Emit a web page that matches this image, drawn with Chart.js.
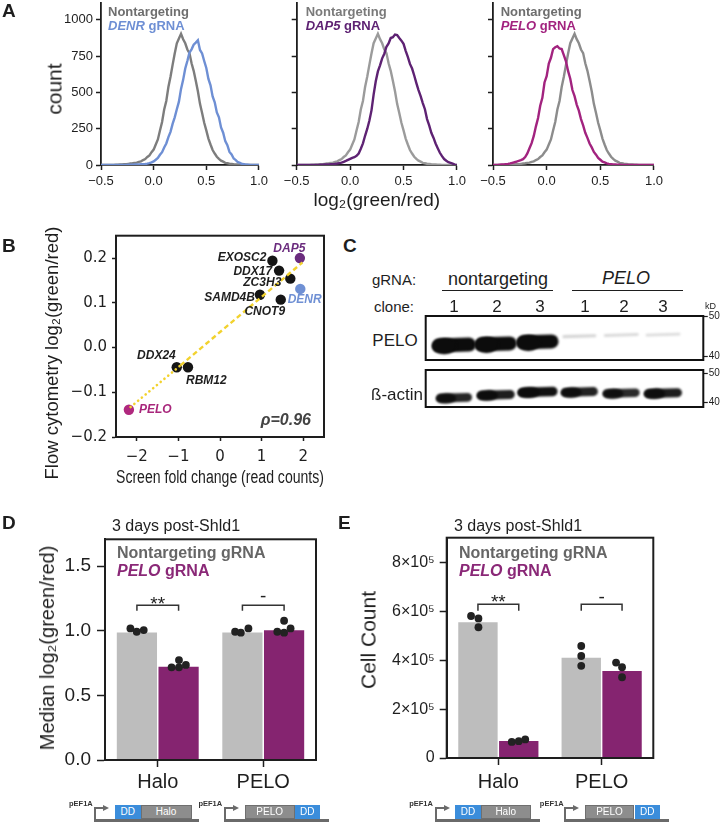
<!DOCTYPE html>
<html>
<head>
<meta charset="utf-8">
<script src="https://cdn.jsdelivr.net/npm/chart.js@4.4.1/dist/chart.umd.min.js"></script>
<style>
html,body{margin:0;padding:0;background:#fff;}
body{width:725px;height:823px;position:relative;overflow:hidden;font-family:'Liberation Sans',Arial,Helvetica,sans-serif;color:#222;}
canvas{position:absolute;}
.t{position:absolute;white-space:nowrap;line-height:1;}
.r{position:absolute;box-sizing:border-box;}
</style>
</head>
<body>
<script>
// ================= DATA =================
// Panel A: histogram bin centers (log2 green/red) and counts
const binCenters = [-0.50,-0.48,-0.46,-0.44,-0.42,-0.40,-0.38,-0.36,-0.34,-0.32,-0.30,-0.28,-0.26,-0.24,-0.22,-0.20,-0.18,-0.16,-0.14,-0.12,-0.10,-0.08,-0.06,-0.04,-0.02,0.00,0.02,0.04,0.06,0.08,0.10,0.12,0.14,0.16,0.18,0.20,0.22,0.24,0.26,0.28,0.30,0.32,0.34,0.36,0.38,0.40,0.42,0.44,0.46,0.48,0.50,0.52,0.54,0.56,0.58,0.60,0.62,0.64,0.66,0.68,0.70,0.72,0.74,0.76,0.78,0.80,0.82,0.84,0.86,0.88,0.90,0.92,0.94,0.96,0.98,1.00];
const countNontargeting = [0,0,0,1,0,1,1,2,2,3, 4,5,6,8,10,12,15,16,22,25, 34,41,55,66,88,106, 141,176,238,296,382,441,537,608,689,768, 838,871,903,866,838,795,770,700,648,580, 508,421,358,291,238,182,141,103,79,57, 42,30,23,15,12,9,7,5,4,3, 2,2,1,1,1,0,1,0,0,0];
const countDENR = [0,0,0,0,0,0,0,0,1,0, 1,1,1,2,2,2,3,3,4,5, 6,7,9,13,18,25, 36,48,70,88,121,148,192,228,283,328, 384,436,524,586,664,716,774,796,828,842, 858,792,768,716,668,592,548,472,432,362, 328,258,222,164,136,90,73,45,34,19, 14,7,5,3,2,1,1,0,0,0];
const countDAP5 = [0,0,0,0,0,0,0,1,1,1, 1,2,2,3,3,4,5,6,8,10, 13,16,22,28,35,42, 49,54,63,79,112,149,201,248,304,376, 484,576,644,686,734,766,814,836,874,880, 898,894,874,856,834,786,744,696,664,616, 564,516,474,426,384,316,272,222,188,148, 116,84,61,41,29,19,14,9,3,0];
const countPELO = [0,1,1,2,3,4,6,8,11,15, 19,24,29,33,40,55,80,115,150,200, 266,324,408,462,568,612, 698,738,798,810,818,802,798,756,714,646, 594,516,474,416,374,316,272,222,187,148, 121,90,71,49,36,23,18,11,8,6, 4,3,2,2,1,1,1,0,0,0, 0,0,0,0,0,0,0,0,0,0];
const histXTicks = [-0.5,0,0.5,1.0];
const histYTicks = [0,250,500,750,1000];

// Panel B: screen fold change vs flow cytometry log2(green/red)
const geneNames = ['PELO','DDX24','RBM12','SAMD4B','EXOSC2','DDX17','ZC3H3','CNOT9','DAP5','DENR'];
const screenFoldChange = [-2.19,-1.04,-0.77,0.96,1.26,1.42,1.69,1.46,1.92,1.93];
const flowLog2 = [-0.139,-0.044,-0.044,0.118,0.194,0.172,0.154,0.107,0.200,0.131];
const fitX = [-2.15,-0.95,1.98];
const fitY = [-0.133,-0.040,0.190];
const rhoText = 'ρ=0.96';
const scatterXTicks = [-2,-1,0,1,2];
const scatterYTicks = [-0.2,-0.1,0,0.1,0.2];

// Panel C: western blot lanes and band signal
const gRNAGroups = ['nontargeting','PELO'];
const cloneLabels = ['1','2','3','1','2','3'];
const laneIdx = [1,2,3,4,5,6];
const peloSignal = [1.0,1.0,1.0,0.08,0.06,0.05];
const peloBandKD = [42.8,43.1,43.6,45.0,45.3,45.4];
const actinSignal = [0.88,0.92,0.98,0.90,0.86,0.92];
const actinBandKD = [41.6,42.6,43.6,43.6,43.2,43.2];
const kdTicks = [40,50];

// Panels D, E
const constructNames = ['Halo','PELO'];
const medianNT = [0.987,0.987];
const medianPELO = [0.722,1.003];
const dotsMedianNT = [[1.018,0.992,1.005],[0.992,0.985,1.018]];
const dotsMedianPELO = [[0.717,0.773,0.717,0.735],[0.992,1.077,0.985,1.018]];
const medianTicks = [0,0.5,1.0,1.5];
const cellNT = [556000,411000];
const cellPELO = [70000,357000];
const dotsCellNT = [[582000,572000,536000],[459000,418000,378000]];
const dotsCellPELO = [[66000,69000,76000],[391000,372000,331000]];
const cellTicks = [0,200000,400000,600000,800000];
const sigLabels = ['**','-'];

// ================= STYLE / HELPERS =================
const FONT = "'Liberation Sans', Arial, Helvetica, sans-serif";
Chart.defaults.font.family = FONT;
Chart.defaults.color = '#1e1e1e';
Chart.defaults.animation = false;
const AX = '#1e1e1e';
const C_BLUE = '#6e8fd4', C_PURPLE = '#5e2273', C_MAG = '#a2237f', C_BAR_G = '#bdbdbd', C_BAR_M = '#852470';

function addCanvas(left, top, w, h){
  const c = document.createElement('canvas');
  c.width = w; c.height = h;
  c.style.left = left+'px'; c.style.top = top+'px';
  c.style.width = w+'px'; c.style.height = h+'px';
  document.body.appendChild(c); return c;
}
function text(html, x, y, o={}){
  const d = document.createElement('div'); d.className='t'; d.innerHTML = html;
  const s = d.style; s.left = x+'px'; s.top = y+'px'; s.fontSize = (o.size||14)+'px';
  s.fontWeight = o.bold ? 'bold' : 'normal'; if (o.italic) s.fontStyle = 'italic';
  s.color = o.color || '#1e1e1e'; if (o.family) s.fontFamily = o.family;
  const ax = o.align==='center' ? '-50%' : (o.align==='right' ? '-100%' : '0');
  s.transform = `translate(${ax},-50%)`;
  document.body.appendChild(d); return d;
}
function vtext(html, cx, cy, size){
  const d = document.createElement('div'); d.className='t'; d.innerHTML = html;
  Object.assign(d.style, {left:cx+'px', top:cy+'px', fontSize:size+'px', color:'#1e1e1e',
    transform:'translate(-50%,-50%) rotate(-90deg)'});
  document.body.appendChild(d); return d;
}
function rect(x,y,w,h,bg,extra){
  const d = document.createElement('div'); d.className='r';
  Object.assign(d.style,{left:x+'px',top:y+'px',width:w+'px',height:h+'px',background:bg}, extra||{});
  document.body.appendChild(d); return d;
}
const fmt = (v,d)=> (v<0?'−':'') + Math.abs(v).toFixed(d);
const axisGrid = (len, w)=>({drawOnChartArea:false, drawTicks:true, tickLength:len, color:AX, tickWidth:w||1.5});
const setTicks = arr => (s => { s.ticks = arr.map(v=>({value:v})); });

// iterate layout padding / axis sizes so the plot area lands exactly on target
function fitArea(chart, L, T, tgt, st, mode){
  for (let k=0; k<6; k++){
    const a = chart.chartArea;
    const dl = (tgt.l-L)-a.left, dr = (tgt.r-L)-a.right, dt = (tgt.t-T)-a.top, db = (tgt.b-T)-a.bottom;
    if (Math.abs(dl)<0.05 && Math.abs(dr)<0.05 && Math.abs(dt)<0.05 && Math.abs(db)<0.05) break;
    if (mode==='blot'){ st.pl += dl; st.ya -= dr; st.pt += dt; st.pb -= db; }
    else { st.ya += dl; st.pr -= dr; st.pt += dt; st.xa -= db; }
    chart.options.layout.padding = {left:st.pl||0, top:st.pt, right:st.pr||0, bottom:st.pb||0};
    chart.update('none');
  }
}

const boxPlugin = {id:'box', afterDraw(chart, args, o){
  if(!o || !o.on) return; const {ctx, chartArea:a} = chart;
  ctx.save(); ctx.strokeStyle = o.color || AX; ctx.lineWidth = o.width || 2;
  ctx.strokeRect(a.left, a.top, a.right-a.left, a.bottom-a.top); ctx.restore();
}};

// ================= PANEL A =================
function histChart(cfg){
  const T = -12, H = 227;
  const st = {ya:cfg.ya, pr:12, pt:15, xa:50, pl:0};
  const c = addCanvas(cfg.left, T, cfg.w, H);
  const ch = new Chart(c, {
    type:'line',
    data:{datasets: cfg.series.map(s=>({
      data: binCenters.map((x,i)=>({x, y:s.values[i]})),
      borderColor:s.color, borderWidth:2.4, pointRadius:0, tension:0, fill:false
    }))},
    options:{responsive:false, animation:false,
      layout:{padding:{left:0, top:st.pt, right:st.pr, bottom:0}},
      plugins:{legend:{display:false}, tooltip:{enabled:false}},
      scales:{
        x:{type:'linear', min:-0.5, max:1.0, afterBuildTicks:setTicks(histXTicks),
          ticks:{padding:4, font:{size:13}, color:AX, callback:v=>fmt(v,1)},
          grid:axisGrid(5), border:{color:AX, width:1.8},
          title: cfg.xTitle ? {display:true, text:cfg.xTitle, font:{size:19}, color:AX, padding:{top:0, bottom:2.6}} : {display:false},
          afterFit:s=>{s.height=st.xa;}},
        y:{min:0, max:1115, afterBuildTicks:setTicks(histYTicks),
          ticks:{display:!!cfg.yLabels, padding:3, font:{size:13}, color:AX, callback:v=>String(v)},
          grid:axisGrid(5), border:{color:AX, width:1.8},
          afterFit:s=>{s.width=st.ya;}}
      }
    }
  });
  fitArea(ch, cfg.left, T, {l:cfg.l, r:cfg.r, t:3, b:165}, st);
}
histChart({left:40, w:232, ya:61, l:101, r:260, yLabels:true,
  series:[{values:countDENR, color:C_BLUE},{values:countNontargeting, color:'#7d7d7d'}]});
histChart({left:276, w:194, ya:20.7, l:296.7, r:458, xTitle:'log₂(green/red)',
  series:[{values:countDAP5, color:C_PURPLE},{values:countNontargeting, color:'#9b9b9b'}]});
histChart({left:473, w:194, ya:20, l:493, r:655,
  series:[{values:countPELO, color:C_MAG},{values:countNontargeting, color:'#8c8c8c'}]});
vtext('count', 53.8, 88.5, 21);

text('Nontargeting', 108, 11, {size:13, bold:true, color:'#6e6e6e'});
text('<i>DENR</i> gRNA', 108, 25, {size:13, bold:true, color:C_BLUE});
text('Nontargeting', 305.7, 11, {size:13, bold:true, color:'#7a7a7a'});
text('<i>DAP5</i> gRNA', 305.7, 25, {size:13, bold:true, color:C_PURPLE});
text('Nontargeting', 500.7, 11, {size:13, bold:true, color:'#6e6e6e'});
text('<i>PELO</i> gRNA', 500.7, 25, {size:13, bold:true, color:C_MAG});

// ================= PANEL B =================
const geneColors = ['#b0287e','#151515','#151515','#151515','#151515','#151515','#151515','#151515','#6b2c7e','#6f90d4'];
const geneTextColors = ['#a8267b','#1e1e1e','#1e1e1e','#1e1e1e','#1e1e1e','#1e1e1e','#1e1e1e','#1e1e1e','#6b2c7e','#6f90d4'];
const geneLabelPos = [
  {a:'left', dx:10, dy:0}, {a:'right', dx:-1, dy:-12}, {a:'left', dx:-2, dy:13},
  {a:'right', dx:-5, dy:3}, {a:'right', dx:-6, dy:-3}, {a:'right', dx:-7, dy:1},
  {a:'right', dx:-9, dy:4}, {a:'center', dx:-16, dy:12}, {a:'center', dx:-10.5, dy:-9},
  {a:'left', dx:-12.6, dy:11}
];
const geneLabelPlugin = {id:'geneLabels', afterDatasetsDraw(chart){
  const {ctx, chartArea:a} = chart; const meta = chart.getDatasetMeta(2);
  ctx.save(); ctx.font = `italic bold 12px ${FONT}`; ctx.textBaseline='middle';
  meta.data.forEach((pt,i)=>{ const L = geneLabelPos[i];
    ctx.fillStyle = geneTextColors[i]; ctx.textAlign = L.a;
    ctx.fillText(geneNames[i], pt.x+L.dx, pt.y+L.dy); });
  ctx.font = `italic bold 16px ${FONT}`; ctx.fillStyle = '#444'; ctx.textAlign='right';
  ctx.fillText(rhoText, a.right-13, a.bottom-16.5);
  ctx.restore();
}};
{
  const L = 30, T = 218, W = 306, H = 271;
  const st = {ya:86, pr:12, pt:17.7, xa:52, pl:0};
  const cB = addCanvas(L, T, W, H);
  const ch = new Chart(cB, {
    type:'scatter',
    data:{datasets:[
      {type:'line', data:[{x:fitX[0],y:fitY[0]},{x:fitX[1],y:fitY[1]}], borderColor:'#f2d22e', borderWidth:2.6, borderDash:[0.1,4.8], borderCapStyle:'round', pointRadius:0, order:0},
      {type:'line', data:[{x:fitX[1],y:fitY[1]},{x:fitX[2],y:fitY[2]}], borderColor:'#f2d22e', borderWidth:2.4, borderDash:[5,3.2], pointRadius:0, order:0},
      {data: geneNames.map((n,i)=>({x:screenFoldChange[i], y:flowLog2[i]})), pointRadius:5.2, pointBackgroundColor:geneColors, pointBorderWidth:0, order:1}
    ]},
    options:{responsive:false, animation:false,
      layout:{padding:{left:0, top:st.pt, right:st.pr, bottom:0}},
      plugins:{legend:{display:false}, tooltip:{enabled:false}, box:{on:true, width:2}},
      scales:{
        x:{type:'linear', min:-2.5, max:2.5, afterBuildTicks:setTicks(scatterXTicks),
          ticks:{padding:7, font:{size:15, family:"'DejaVu Sans', sans-serif"}, color:AX, callback:v=>fmt(v,0)},
          grid:axisGrid(4), border:{color:AX, width:2},
          title:{display:true, text:'Screen fold change (read counts)', font:{size:18}, color:AX, padding:{top:0,bottom:0}},
          afterFit:s=>{s.height=st.xa;}},
        y:{min:-0.2, max:0.25, afterBuildTicks:setTicks(scatterYTicks),
          ticks:{padding:5, font:{size:15, family:"'DejaVu Sans', sans-serif"}, color:AX, callback:v=>fmt(v,1)},
          grid:axisGrid(4), border:{color:AX, width:2},
          afterFit:s=>{s.width=st.ya;}}
      }
    },
    plugins:[boxPlugin, geneLabelPlugin]
  });
  fitArea(ch, L, T, {l:116, r:324, t:235.7, b:437}, st);
}
vtext('Flow cytometry log₂(green/red)', 51.7, 353, 18.5);

// ================= PANEL C (blot) =================
const blotPlugin = {id:'blot',
  beforeDatasetsDraw(chart, args, o){
    const {ctx, chartArea:a, scales:{x,y}} = chart;
    ctx.save(); ctx.fillStyle='#fff'; ctx.fillRect(a.left,a.top,a.width,a.height);
    ctx.beginPath(); ctx.rect(a.left,a.top,a.width,a.height); ctx.clip();
    laneIdx.forEach((lane,i)=>{
      const s = o.signal[i];
      const cx = x.getPixelForValue(lane), cy = y.getPixelForValue(o.kd[i]);
      const w = o.bandW[i], h = o.hMin + (o.hMax-o.hMin)*s;
      ctx.save(); ctx.filter = `blur(${o.blur}px)`;
      ctx.globalAlpha = Math.min(1, 0.1 + 0.9*s); ctx.fillStyle = '#0c0c0c';
      ctx.translate(cx, cy); ctx.rotate(o.tilt);
      ctx.beginPath(); ctx.roundRect(-w/2, -h/2, w, h, h/2); ctx.fill();
      if (s > 0.5){ ctx.beginPath(); ctx.ellipse(-w*0.22, h*0.05, w*0.28, h*0.58, 0, 0, Math.PI*2); ctx.fill(); }
      ctx.restore();
    });
    ctx.restore();
  },
  afterDraw(chart){ const {ctx, chartArea:a} = chart; ctx.save(); ctx.strokeStyle='#111'; ctx.lineWidth=2;
    ctx.strokeRect(a.left, a.top, a.width, a.height); ctx.restore(); }
};
function blotChart(cfg){
  const L = 420, W = 300;
  const st = {pl:5.7, pt:cfg.pt, pb:cfg.pb, ya:16.7, pr:0};
  const c = addCanvas(L, cfg.top, W, cfg.h);
  const ch = new Chart(c, {
    type:'scatter',
    data:{datasets:[{data: laneIdx.map((l,i)=>({x:l, y:cfg.kd[i]})), pointRadius:0}]},
    options:{responsive:false, animation:false,
      layout:{padding:{left:st.pl, top:st.pt, right:0, bottom:st.pb}},
      plugins:{legend:{display:false}, tooltip:{enabled:false},
        blot:{signal:cfg.signal, kd:cfg.kd, bandW:cfg.bandW, hMin:cfg.hMin, hMax:cfg.hMax, blur:1.2, tilt:-0.03}},
      scales:{
        x:{type:'linear', min:0.323, max:6.964, display:false},
        y:{position:'right', min:cfg.min, max:cfg.max, afterBuildTicks:setTicks(kdTicks),
          ticks:{font:{size:10}, padding:1, color:AX},
          grid:axisGrid(4.5, 1.2), border:{display:false},
          afterFit:s=>{s.width=st.ya;}}
      }
    },
    plugins:[blotPlugin]
  });
  fitArea(ch, L, cfg.top, {l:425.7, r:703.3, t:cfg.t, b:cfg.b}, st, 'blot');
}
blotChart({top:300, h:67, pt:16, pb:6.3, t:316, b:360.7, min:39.1, max:50, signal:peloSignal, kd:peloBandKD,
  bandW:[44,42,42,34,35,35], hMin:2.2, hMax:14});
blotChart({top:360, h:54, pt:10, pb:6.7, t:370, b:407.3, min:38.44, max:51.12, signal:actinSignal, kd:actinBandKD,
  bandW:[36,38,40,37,37,38], hMin:2.5, hMax:9.5});

text('gRNA:', 394, 279, {size:15, align:'center'});
text('clone:', 394, 306, {size:15, align:'center'});
text(gRNAGroups[0], 498, 279, {size:18, align:'center'});
text(gRNAGroups[1], 626, 278, {size:18, align:'center', italic:true});
rect(441.7, 289.5, 111, 1.6, '#1e1e1e');
rect(572.3, 289.5, 111, 1.6, '#1e1e1e');
const cloneX = [454,497,540,585,624,663];
cloneLabels.forEach((l,i)=> text(l, cloneX[i], 306, {size:17, align:'center'}));
text('kD', 710.5, 305.5, {size:9, align:'center'});
text('PELO', 395, 339.5, {size:17, align:'center'});
text('ß-actin', 397, 393.5, {size:17, align:'center'});

// ================= PANELS D, E =================
const dotsPlugin = {id:'dots', afterDatasetsDraw(chart, args, o){
  const {ctx, scales:{y}} = chart;
  ctx.save();
  [0,1].forEach(d=>{ const meta = chart.getDatasetMeta(d);
    meta.data.forEach((bar,j)=>{ o.dots[d][j].forEach((v,k)=>{
      ctx.beginPath(); ctx.arc(bar.x + o.off[d][j][k], y.getPixelForValue(v), 3.9, 0, Math.PI*2);
      ctx.fillStyle = '#222'; ctx.fill(); }); }); });
  const m0 = chart.getDatasetMeta(0), m1 = chart.getDatasetMeta(1);
  ctx.strokeStyle = '#333'; ctx.lineWidth = 1.5; ctx.fillStyle = '#222';
  ctx.font = `19px ${FONT}`; ctx.textAlign = 'center'; ctx.textBaseline = 'alphabetic';
  sigLabels.forEach((lab,j)=>{
    const x1 = m0.data[j].x, x2 = m1.data[j].x;
    const yt = y.getPixelForValue(o.brTop), yl = y.getPixelForValue(o.brLeg);
    ctx.beginPath(); ctx.moveTo(x1,yl); ctx.lineTo(x1,yt); ctx.lineTo(x2,yt); ctx.lineTo(x2,yl); ctx.stroke();
    ctx.fillText(lab, (x1+x2)/2, yt + (lab==='**' ? o.starDy : o.dashDy));
  });
  ctx.restore();
}};
function barChart(cfg){
  const T = 520;
  const st = {ya:cfg.ya, pr:cfg.pr, pt:cfg.tgt.t - T, xa:40, pl:0};
  const c = addCanvas(cfg.left, T, cfg.w, cfg.h);
  const ch = new Chart(c, {
    type:'bar',
    data:{labels:constructNames, datasets:[
      {data:cfg.nt, backgroundColor:C_BAR_G, borderWidth:0},
      {data:cfg.pelo, backgroundColor:C_BAR_M, borderWidth:0}]},
    options:{responsive:false, animation:false,
      datasets:{bar:{categoryPercentage:0.79, barPercentage:0.965}},
      layout:{padding:{left:0, top:st.pt, right:st.pr, bottom:0}},
      plugins:{legend:{display:false}, tooltip:{enabled:false}, box:{on:true, width:2},
        dots:{dots:[cfg.dotsNT, cfg.dotsPELO], off:cfg.off, brTop:cfg.brTop, brLeg:cfg.brLeg, starDy:cfg.starDy, dashDy:cfg.dashDy}},
      scales:{
        x:{grid:Object.assign(axisGrid(7), {offset:false}), border:{color:AX, width:2},
          ticks:{font:{size:20}, padding:cfg.xpad, color:AX},
          afterFit:s=>{s.height=st.xa;}},
        y:{min:0, max:cfg.max, afterBuildTicks:setTicks(cfg.ticks),
          ticks:{padding:cfg.ypad, font:{size:cfg.tick}, color:AX, callback:cfg.fmt},
          grid:axisGrid(cfg.ytl), border:{color:AX, width:2},
          afterFit:s=>{s.width=st.ya;}}
      }
    },
    plugins:[boxPlugin, dotsPlugin]
  });
  fitArea(ch, cfg.left, T, cfg.tgt, st);
}
barChart({left:20, w:300, h:280, pr:4, ya:85, max:1.707, ticks:medianTicks, tick:19, ytl:8, ypad:6, xpad:3.3,
  fmt:v=>fmt(v,1), tgt:{l:105, r:316, t:539.3, b:760},
  nt:medianNT, pelo:medianPELO, dotsNT:dotsMedianNT, dotsPELO:dotsMedianPELO,
  off:[[[-6.5,-0.2,6.8],[-7.3,-1.6,6]],[[-7,0.4,0.4,7.3],[-6.8,0,0,6.5]]],
  brTop:1.196, brLeg:1.155, starDy:4.5, dashDy:-3});
barChart({left:350, w:308, h:278, pr:4.7, ya:96.7, max:903000, ticks:cellTicks, tick:16, ytl:7, ypad:5, xpad:5.3,
  fmt:v=> v===0 ? '0' : (v/100000)+'×10⁵', tgt:{l:446.7, r:653.3, t:537.7, b:758},
  nt:cellNT, pelo:cellPELO, dotsNT:dotsCellNT, dotsPELO:dotsCellPELO,
  off:[[[-6.9,0.5,0.5],[0,0,0]],[[-7,0,6.5],[-6,0,0]]],
  brTop:630000, brLeg:604000, starDy:4, dashDy:-1.5});
vtext('Median log₂(green/red)', 46.5, 648, 20);
vtext('Cell Count', 367.5, 639.5, 21);

text('3 days post-Shld1', 176, 526, {size:16, align:'center'});
text('3 days post-Shld1', 518, 526, {size:16, align:'center'});
text('Nontargeting gRNA', 117, 553.3, {size:16, bold:true, color:'#666'});
text('<i>PELO</i> gRNA', 117, 571, {size:16, bold:true, color:'#8a2877'});
text('Nontargeting gRNA', 459, 553.3, {size:16, bold:true, color:'#666'});
text('<i>PELO</i> gRNA', 459, 571, {size:16, bold:true, color:'#8a2877'});

// construct diagrams
function construct(c){
  const g = '#6a6a6a';
  rect(c.v-1, 818.5, c.end-c.v+1, 3, g);
  rect(c.v-1, 806.5, 2, 14, g);
  rect(c.v-1, 806.5, c.arrow-c.v-3, 2, g);
  const a = document.createElement('div'); a.className='r';
  Object.assign(a.style,{left:(c.arrow-5)+'px', top:'804.5px', width:0, height:0,
    borderLeft:'6px solid '+g, borderTop:'3px solid transparent', borderBottom:'3px solid transparent'});
  document.body.appendChild(a);
  c.boxes.forEach(b=>{
    rect(b.x, 805, b.w, 13.5, b.t==='DD' ? '#3b8ddb' : '#8d8d8d',
      {border: b.t==='DD' ? 'none' : '1px solid #6f6f6f'});
    text(b.t, b.x + b.w/2, 812, {size:10, align:'center', color:'#fff'});
  });
  text('pEF1A', c.label, 803.5, {size:7.5, bold:true, color:'#333'});
}
construct({v:95.2, arrow:108, end:199.3, label:69, boxes:[{x:115,w:25.5,t:'DD'},{x:140.5,w:51,t:'Halo'}]});
construct({v:224.8, arrow:237.8, end:329, label:198.4, boxes:[{x:244.7,w:50,t:'PELO'},{x:294.7,w:25,t:'DD'}]});
construct({v:435.5, arrow:448.5, end:539.8, label:409.2, boxes:[{x:455.4,w:25.4,t:'DD'},{x:480.8,w:49.8,t:'Halo'}]});
construct({v:564.8, arrow:577.7, end:669.1, label:539.8, boxes:[{x:584.6,w:49.9,t:'PELO'},{x:634.5,w:25.3,t:'DD'}]});

// panel letters
text('A', 2, 10, {size:19, bold:true});
text('B', 2, 245, {size:19, bold:true});
text('C', 343, 245, {size:19, bold:true});
text('D', 2, 522, {size:19, bold:true});
text('E', 338, 522, {size:19, bold:true});
</script>
</body>
</html>
